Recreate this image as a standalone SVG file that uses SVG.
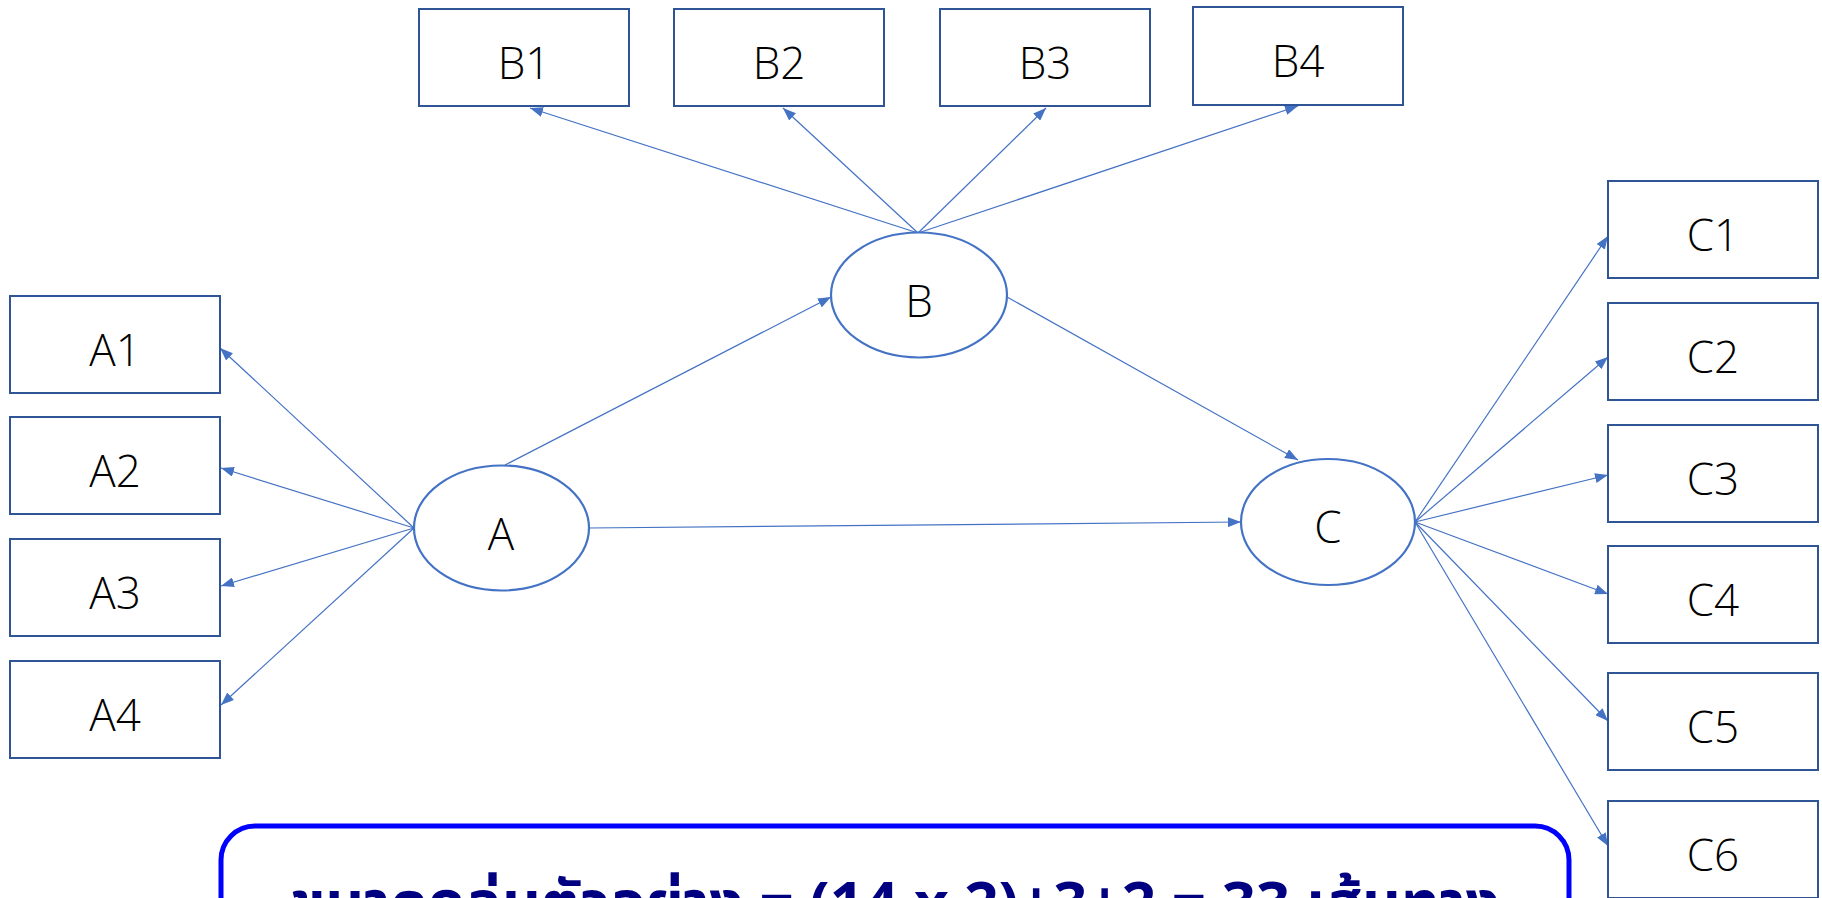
<svg xmlns="http://www.w3.org/2000/svg" width="1822" height="898" viewBox="0 0 1822 898">
<defs>
<marker id="arr" markerUnits="userSpaceOnUse" markerWidth="13" markerHeight="10" refX="13" refY="5" orient="auto">
<path d="M0,0 L13,5 L0,10 z" fill="#4472C4"/>
</marker>
<style>
.box{fill:#fff;stroke:#2F5597;stroke-width:2}
.ell{fill:#fff;stroke:#4472C4;stroke-width:2.2}
.lbl{font-family:"Open Sans","Noto Sans","Liberation Sans",sans-serif;font-weight:300;font-size:44px;fill:#000;text-anchor:middle}
.con line{stroke:#4472C4;stroke-width:1.2;marker-end:url(#arr)}
.note{fill:#fff;stroke:#0000FF;stroke-width:5}
.notetxt{font-family:"Noto Sans Thai","Noto Sans","Liberation Sans",sans-serif;font-weight:bold;font-size:60px;fill:#000080;text-anchor:middle}
</style>
</defs>
<rect width="1822" height="898" fill="#fff"/>
<g id="connectors" class="con">
<line x1="414" y1="528" x2="220" y2="348"/>
<line x1="414" y1="528" x2="221" y2="468"/>
<line x1="414" y1="528" x2="221" y2="586"/>
<line x1="414" y1="528" x2="221" y2="705"/>
<line x1="505" y1="465" x2="831" y2="297"/>
<line x1="589" y1="528" x2="1241" y2="522"/>
<line x1="918" y1="233" x2="530" y2="108"/>
<line x1="918" y1="233" x2="783" y2="108"/>
<line x1="918" y1="233" x2="1046" y2="108"/>
<line x1="918" y1="233" x2="1298" y2="106"/>
<line x1="1007" y1="297" x2="1298" y2="460"/>
<line x1="1415" y1="522" x2="1608" y2="236"/>
<line x1="1415" y1="522" x2="1608" y2="357"/>
<line x1="1415" y1="522" x2="1608" y2="475"/>
<line x1="1415" y1="522" x2="1608" y2="594"/>
<line x1="1415" y1="522" x2="1608" y2="721"/>
<line x1="1415" y1="522" x2="1608" y2="846"/>
</g>
<g id="A1"><rect class="box" x="10" y="296" width="210" height="97"/><text class="lbl" x="115" y="366">A1</text></g>
<g id="A2"><rect class="box" x="10" y="417" width="210" height="97"/><text class="lbl" x="115" y="487">A2</text></g>
<g id="A3"><rect class="box" x="10" y="539" width="210" height="97"/><text class="lbl" x="115" y="609">A3</text></g>
<g id="A4"><rect class="box" x="10" y="661" width="210" height="97"/><text class="lbl" x="115" y="731">A4</text></g>
<g id="B1"><rect class="box" x="419" y="9" width="210" height="97"/><text class="lbl" x="524" y="79">B1</text></g>
<g id="B2"><rect class="box" x="674" y="9" width="210" height="97"/><text class="lbl" x="779" y="79">B2</text></g>
<g id="B3"><rect class="box" x="940" y="9" width="210" height="97"/><text class="lbl" x="1045" y="79">B3</text></g>
<g id="B4"><rect class="box" x="1193" y="7" width="210" height="98"/><text class="lbl" x="1298" y="77">B4</text></g>
<g id="C1"><rect class="box" x="1608" y="181" width="210" height="97"/><text class="lbl" x="1713" y="251">C1</text></g>
<g id="C2"><rect class="box" x="1608" y="303" width="210" height="97"/><text class="lbl" x="1713" y="373">C2</text></g>
<g id="C3"><rect class="box" x="1608" y="425" width="210" height="97"/><text class="lbl" x="1713" y="495">C3</text></g>
<g id="C4"><rect class="box" x="1608" y="546" width="210" height="97"/><text class="lbl" x="1713" y="616">C4</text></g>
<g id="C5"><rect class="box" x="1608" y="673" width="210" height="97"/><text class="lbl" x="1713" y="743">C5</text></g>
<g id="C6"><rect class="box" x="1608" y="801" width="210" height="97"/><text class="lbl" x="1713" y="871">C6</text></g>
<g id="A"><ellipse class="ell" cx="501.5" cy="528" rx="87.5" ry="62.5"/><text class="lbl" x="501" y="550">A</text></g>
<g id="B"><ellipse class="ell" cx="919" cy="295" rx="88" ry="62.5"/><text class="lbl" x="919" y="317">B</text></g>
<g id="C"><ellipse class="ell" cx="1328" cy="522" rx="87" ry="63"/><text class="lbl" x="1328" y="543">C</text></g>
<g id="note"><rect class="note" x="221" y="826" width="1348" height="200" rx="34" ry="34"/><text class="notetxt" x="895" y="924">ขนาดกลุ่มตัวอย่าง = (14 x 2)+3+2 = 33 เส้นทาง</text></g>
</svg>
